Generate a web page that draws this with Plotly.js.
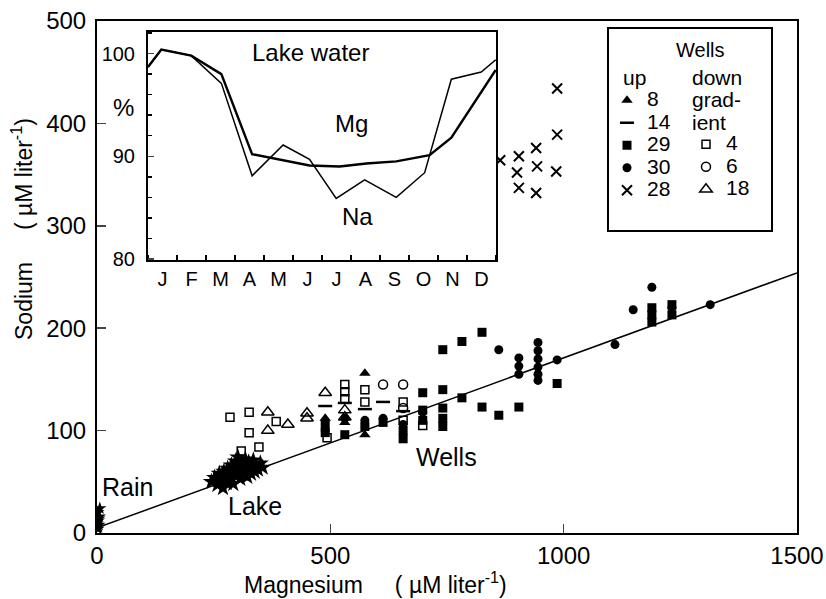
<!DOCTYPE html>
<html><head><meta charset="utf-8">
<script src="https://cdn.plot.ly/plotly-3.0.1.min.js"></script>
<style>html,body{margin:0;padding:0;background:#fff}#chart{width:826px;height:599px}</style>
</head><body><div id="chart"></div>
<script>
// ---- main scatter data (Magnesium vs Sodium, µM/liter) ----
const regMg = [0, 1500];
const regNa = [5, 254];

const rainMg = [2, 4, 3, 5, 2, 6, 4, 3];
const rainNa = [4, 8, 12, 16, 20, 24, 14, 6];

const lakeMg = [245,252,258,262,266,270,272,275,278,280,283,285,288,290,292,295,297,300,302,305,307,310,312,315,318,320,322,325,328,330,333,335,338,340,345,350,355,268,286,304];
const lakeNa = [50,54,47,58,52,44,60,55,49,63,57,51,66,59,48,62,70,56,74,60,53,67,58,64,72,61,55,69,63,58,66,71,60,65,62,68,64,57,53,68];

const w8Mg = [574, 574, 531, 489];
const w8Na = [156, 96, 108, 112];

const w14Mg = [613, 574, 656, 531, 489];
const w14Na = [128, 121, 119, 127, 124];

const w29Mg = [489,489,531,574,613,656,656,698,698,698,741,741,741,741,741,782,782,825,825,861,904,986,1189,1189,1189,1232,1232];
const w29Na = [98,106,96,104,108,100,92,137,120,110,179,140,122,112,104,187,132,196,123,115,123,146,220,213,206,223,213];

const w30Mg = [861,904,904,904,945,945,945,945,945,945,986,1110,1149,1189,1232,1314,489,531,574,613,656,698];
const w30Na = [179,171,163,155,186,178,170,162,155,149,169,184,218,240,220,223,100,112,110,112,106,118];

const w28Mg = [864,904,900,904,941,943,941,986,984,986];
const w28Na = [364,368,352,337,376,358,332,389,353,434];

const w4Mg = [285,326,326,384,309,347,531,531,531,574,574,656,493,656,698];
const w4Na = [113,118,98,109,80,84,145,138,131,140,128,128,93,110,105];

const w6Mg = [613, 656, 656];
const w6Na = [145, 145, 122];

const w18Mg = [366,366,409,450,450,489,531,531];
const w18Na = [118,100,106,112,117,137,120,113];

// ---- inset data (Lake water, % vs month) ----
const months = ['J','F','M','A','M','J','J','A','S','O','N','D'];
const mgMonth = [0,0.46,1.49,2.53,3.59,4.66,5.57,6.61,7.53,8.56,9.71,10.46,11.32,11.99];
const mgPct   = [98.7,100.4,99.8,98.0,90.2,89.6,89.1,89.0,89.3,89.5,90.1,91.8,95.5,98.4];
const naMonth = [0,0.46,1.49,2.53,3.59,4.66,5.57,6.49,7.47,8.56,9.54,10.46,11.49,11.99];
const naPct   = [98.7,100.4,99.8,97.1,88.1,91.1,89.7,85.9,87.7,86.0,88.4,97.5,98.2,99.4];

const FONT = 'Liberation Sans, Arial, sans-serif';
const L = s => '<span style="font-size:21px">' + s + '</span>';

const traces = [
  {x: regMg, y: regNa, mode: 'lines', line: {color: 'black', width: 1.5}, showlegend: false, hoverinfo: 'skip'},
  {x: rainMg, y: rainNa, mode: 'markers', marker: {symbol: 'star', size: 10, color: 'black'}, showlegend: false},
  {x: lakeMg, y: lakeNa, mode: 'markers', marker: {symbol: 'star', size: 13, color: 'black'}, showlegend: false},
  {x: w8Mg, y: w8Na, mode: 'markers', name: L('8'), legend: 'legend', legendgroup: 'a', marker: {symbol: 'triangle-up', size: 10, color: 'black'}},
  {x: w14Mg, y: w14Na, mode: 'markers', name: L('14'), legend: 'legend', legendgroup: 'b', marker: {symbol: 'line-ew', size: 10, color: 'black', line: {color: 'black', width: 2.5}}},
  {x: w29Mg, y: w29Na, mode: 'markers', name: L('29'), legend: 'legend', legendgroup: 'c', marker: {symbol: 'square', size: 9, color: 'black'}},
  {x: w30Mg, y: w30Na, mode: 'markers', name: L('30'), legend: 'legend', legendgroup: 'd', marker: {symbol: 'circle', size: 9, color: 'black'}},
  {x: w28Mg, y: w28Na, mode: 'markers', name: L('28'), legend: 'legend', legendgroup: 'e', marker: {symbol: 'x-thin', size: 10, color: 'black', line: {color: 'black', width: 2}}},
  {x: w4Mg, y: w4Na, mode: 'markers', name: L('4'), legend: 'legend2', legendgroup: 'f', marker: {symbol: 'square-open', size: 8, color: 'black', line: {width: 1.5}}},
  {x: w6Mg, y: w6Na, mode: 'markers', name: L('6'), legend: 'legend2', legendgroup: 'g', marker: {symbol: 'circle-open', size: 9, color: 'black', line: {width: 1.5}}},
  {x: w18Mg, y: w18Na, mode: 'markers', name: L('18'), legend: 'legend2', legendgroup: 'h', marker: {symbol: 'triangle-up-open', size: 11, color: 'black', line: {width: 1.5}}},
  {x: mgMonth, y: mgPct, xaxis: 'x2', yaxis: 'y2', mode: 'lines', line: {color: 'black', width: 2.4}, showlegend: false},
  {x: naMonth, y: naPct, xaxis: 'x2', yaxis: 'y2', mode: 'lines', line: {color: 'black', width: 1.5}, showlegend: false}
];

const W = 700, H = 512, ML = 97, MT = 21;
const px = v => (v - ML) / W;          // pixel x -> paper x
const py = v => (MT + H - v) / H;      // pixel y -> paper y

function note(x, y, text, size, extra) {
  return Object.assign({xref: 'paper', yref: 'paper', x: x, y: y, text: text, showarrow: false,
                        xanchor: 'center', yanchor: 'middle', font: {size: size}}, extra || {});
}

const layout = {
  width: 826, height: 599,
  margin: {l: ML, r: 29, t: MT, b: 66},
  paper_bgcolor: 'white', plot_bgcolor: 'white',
  font: {family: FONT, color: 'black', size: 20},
  xaxis: {range: [0, 1500], tickvals: [0, 500, 1000, 1500], ticks: 'inside', ticklen: 9, tickwidth: 1.5,
          showline: true, linewidth: 2, linecolor: 'black', mirror: true, showgrid: false, zeroline: false,
          tickfont: {size: 24}},
  yaxis: {range: [0, 500], tickvals: [0, 100, 200, 300, 400, 500], ticks: 'inside', ticklen: 9, tickwidth: 1.5,
          showline: true, linewidth: 2, linecolor: 'black', mirror: true, showgrid: false, zeroline: false,
          tickfont: {size: 24}, ticklabelstandoff: 4},
  xaxis2: {domain: [px(148), px(496)], anchor: 'y2', range: [0, 12],
           tickvals: months.map((m, i) => i + 0.5), ticktext: months, ticks: '',
           minor: {tickvals: months.map((m, i) => i).concat([12]), ticks: 'inside', ticklen: 5, tickwidth: 1.5, tickcolor: 'black'},
           showline: true, linewidth: 2, linecolor: 'black', mirror: true, showgrid: false, zeroline: false,
           tickfont: {size: 20}},
  yaxis2: {domain: [py(260), py(32)], anchor: 'x2', range: [79.9, 102.1],
           tickvals: [80, 90, 100], ticks: 'inside', ticklen: 6, tickwidth: 1.5,
           minor: {dtick: 2, tick0: 80, ticks: 'inside', ticklen: 4, tickwidth: 1.5, tickcolor: 'black'},
           showline: true, linewidth: 2, linecolor: 'black', mirror: true, showgrid: false, zeroline: false,
           tickfont: {size: 20}, ticklabelstandoff: 7},
  legend: {x: px(607), y: py(84), xanchor: 'left', yanchor: 'top', bgcolor: 'rgba(0,0,0,0)',
           font: {size: 15}, tracegroupgap: 0, traceorder: 'normal'},
  legend2: {x: px(686), y: py(128), xanchor: 'left', yanchor: 'top', bgcolor: 'rgba(0,0,0,0)',
            font: {size: 15}, tracegroupgap: 0, traceorder: 'normal'},
  shapes: [
    {type: 'rect', xref: 'paper', yref: 'paper', x0: px(608), x1: px(772), y0: py(231), y1: py(28),
     line: {color: 'black', width: 2}, fillcolor: 'rgba(0,0,0,0)'}
  ],
  annotations: [
    note(px(700), py(50), 'Wells', 20),
    note(px(621), py(77), 'up', 21, {xanchor: 'left'}),
    note(px(690), py(77), 'down', 21, {xanchor: 'left'}),
    note(px(690), py(99), 'grad-', 21, {xanchor: 'left'}),
    note(px(690), py(122), 'ient', 21, {xanchor: 'left'}),
    note(px(123), py(107), '%', 24),
    {xref: 'x2', yref: 'y2', x: 5.59, y: 100.1, text: 'Lake water', showarrow: false, font: {size: 24}},
    {xref: 'x2', yref: 'y2', x: 7.03, y: 93.2, text: 'Mg', showarrow: false, font: {size: 24}},
    {xref: 'x2', yref: 'y2', x: 7.24, y: 84.1, text: 'Na', showarrow: false, font: {size: 24}},
    {xref: 'x', yref: 'y', x: 66, y: 45, text: 'Rain', showarrow: false, font: {size: 25}},
    {xref: 'x', yref: 'y', x: 339, y: 26, text: 'Lake', showarrow: false, font: {size: 25}},
    {xref: 'x', yref: 'y', x: 748, y: 74, text: 'Wells', showarrow: false, font: {size: 25}},
    note(px(242), py(583), 'Magnesium     ( µM liter<sup>-1</sup>)', 23, {xanchor: 'left'}),
    note(px(22), py(342), 'Sodium     ( µM liter<sup>-1</sup>)', 23, {yanchor: 'bottom', textangle: -90})
  ]
};

Plotly.newPlot('chart', traces, layout, {displayModeBar: false, staticPlot: true});
</script></body></html>
